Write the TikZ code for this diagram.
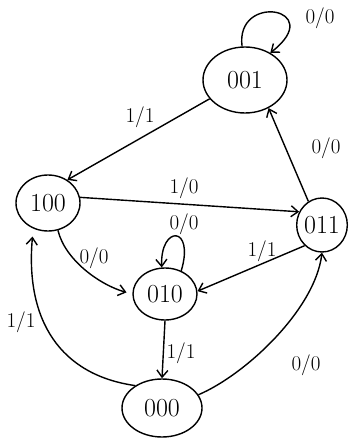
\documentclass[tikz,border=0pt]{standalone}
\usetikzlibrary{shapes.geometric,arrows.meta}
\begin{document}
\begin{tikzpicture}[x=1pt,y=-1pt,line width=1.4pt,
  state/.style={ellipse,draw,inner sep=0pt,font=\fontsize{26}{30}\selectfont},
  lbl/.style={font=\fontsize{21}{25}\selectfont},
  edge/.style={-{Straight Barb[length=7pt,width=11pt]}}]
  \useasboundingbox (0,0) rectangle (348,438);
  \foreach \n/\x/\y/\w/\h in {001/245/80/84/66, 100/48/203/64/56, 011/322/225/50/54, 010/165/294/64/52, 000/162/408/80/58}
    \node[state,minimum width=\w pt,minimum height=\h pt] (s\n) at (\x,\y) {\n};
  \foreach \nm/\x/\y/\i/\o in {t1/140/117/1/1, t2/184/188/1/0, t3/326/148/0/0, t4/320/18/0/0, t5/184/224/0/0, t6/94/258/0/0, t7/262/251/1/1, t8/181/353/1/1, t9/306/365/0/0, t10/21/322/1/1}
    \node[lbl] (\nm) at (\x,\y) {\i/\o};
  \draw[edge] (s001.208) -- (s100.50);
  \draw[edge] (s100.10) -- (s011.150);
  \draw[edge] (s011.120) -- (s001.-50);
  \draw[edge] (s001.95) .. controls (235,-8) and (328,8) .. (s001.47);
  \draw[edge] (s010.55) .. controls (195,225) and (160,225) .. (s010.97);
  \draw[edge,shorten >=6pt] (s100.-70) .. controls (65,260) and (100,285) .. (s010.180);
  \draw[edge] (s011.-130) -- (s010.5);
  \draw[edge] (s010.south) -- (s000.north);
  \draw[edge] (s000.20) .. controls (245,375) and (315,310) .. (s011.-90);
  \draw[edge,shorten >=8pt] (s000.140) .. controls (60,375) and (25,320) .. (s100.-120);
\end{tikzpicture}
\end{document}
